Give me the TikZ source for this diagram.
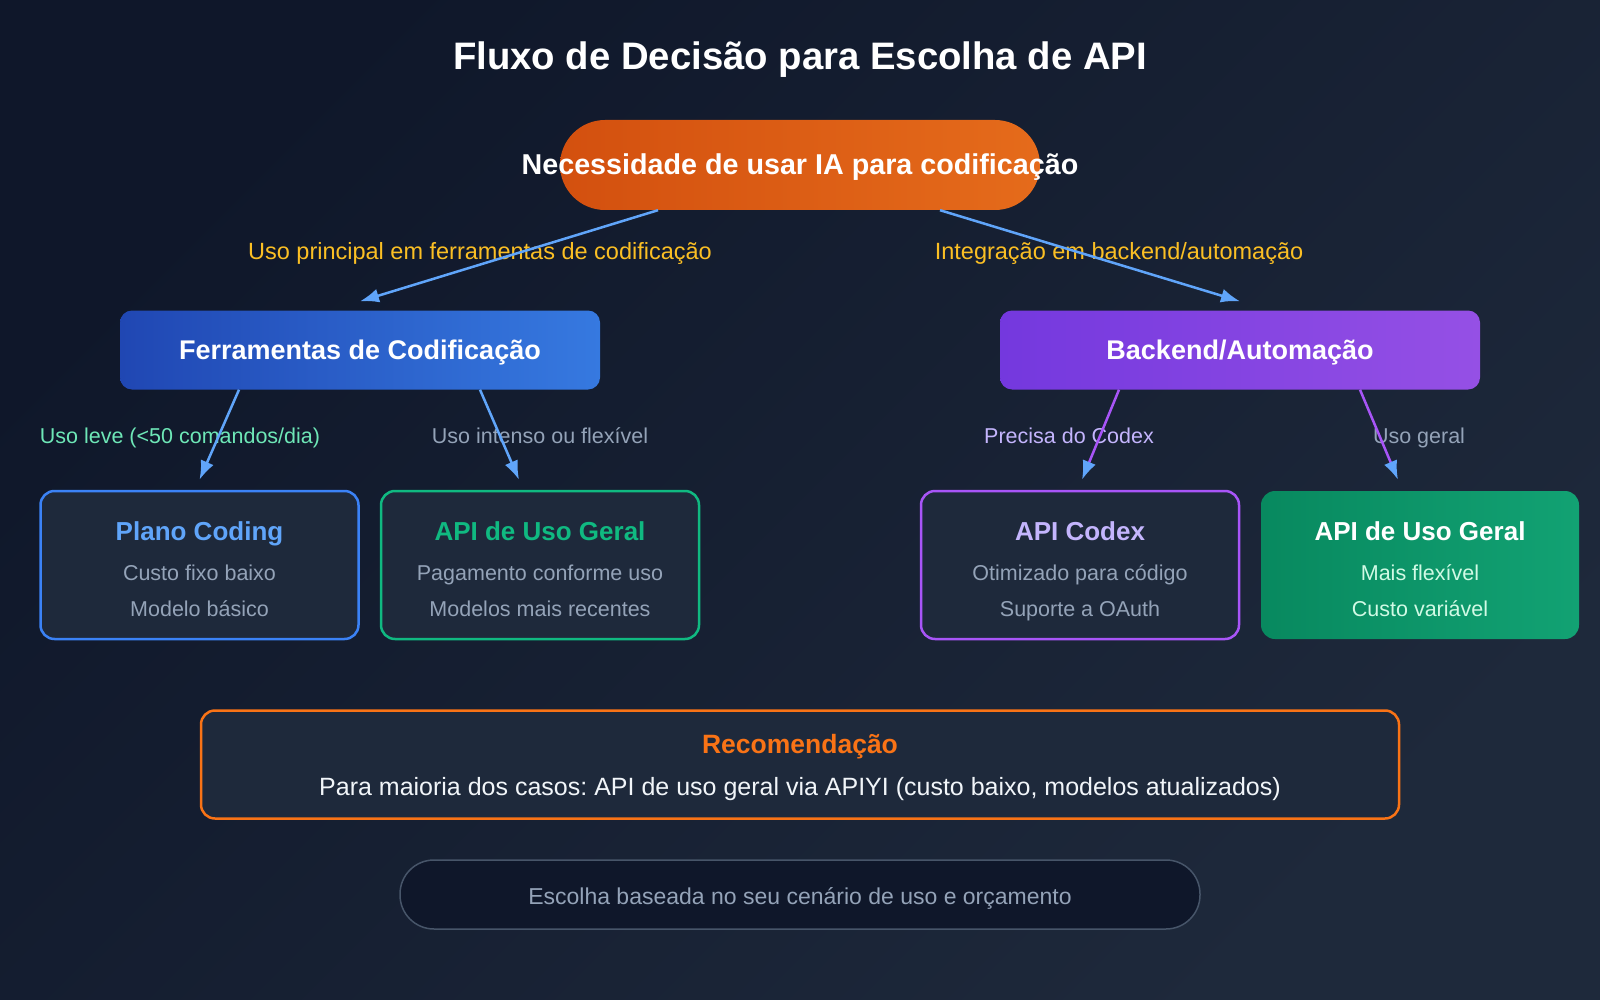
\documentclass[tikz,border=0pt]{standalone}
\usepackage{fontspec}
\setmainfont{Liberation Sans}
\usetikzlibrary{arrows.meta}
\frenchspacing

\definecolor{bgdark}{HTML}{0F172A}
\definecolor{bglight}{HTML}{1E293B}
\definecolor{cardbg}{HTML}{1E293B}
\definecolor{pillA}{HTML}{D3500F}
\definecolor{pillB}{HTML}{E56B1B}
\definecolor{ferrA}{HTML}{2047B3}
\definecolor{ferrB}{HTML}{3679E0}
\definecolor{backA}{HTML}{7438DE}
\definecolor{backB}{HTML}{9550E5}
\definecolor{greenA}{HTML}{08895F}
\definecolor{greenB}{HTML}{12A273}
\definecolor{arrblue}{HTML}{60A5FA}
\definecolor{arrpurple}{HTML}{A855F7}
\definecolor{cblue}{HTML}{3B82F6}
\definecolor{cgreen}{HTML}{10B981}
\definecolor{lpurple}{HTML}{C4B5FD}
\definecolor{lgreen}{HTML}{6EE7B7}
\definecolor{pgreen}{HTML}{D1FAE5}
\definecolor{slate}{HTML}{94A3B8}
\definecolor{amber}{HTML}{FBBF24}
\definecolor{recorange}{HTML}{F97316}
\definecolor{offwhite}{HTML}{F1F5F9}
\definecolor{pillborder}{HTML}{475569}

\newcommand{\fsz}[1]{\fontsize{#1}{#1}\selectfont}

\begin{document}
\begin{tikzpicture}[x=1pt,y=-1pt,
    card/.style={draw,line width=2.5pt,rounded corners=14pt,fill=cardbg,
      minimum width=318pt,minimum height=148pt,inner sep=0pt},
    branch/.style={rounded corners=12pt,minimum width=480pt,minimum height=79pt,
      inner sep=0pt,text=white,font=\fsz{27}\bfseries,text height=24pt,text depth=5pt},
    cardtitle/.style={font=\fsz{26}\bfseries,inner sep=0pt,anchor=base},
    cardline/.style={font=\fsz{21.5},text=slate,inner sep=0pt,anchor=base},
    arrlabel/.style={font=\fsz{21.5},inner sep=0pt,anchor=base},
    arrb/.style={draw=arrblue,line width=2.5pt,-{Latex[length=19pt,width=14pt]}},
    arrp/.style={draw=arrpurple,line width=2.5pt,-{Latex[length=19pt,width=14pt,color=arrblue]}}]

  % background
  \shade[top color=bgdark,bottom color=bglight,shading angle=45] (0,0) rectangle (1600,1000);
  \useasboundingbox (0,0) rectangle (1600,1000);

  % title
  \node[font=\fsz{38.3}\bfseries,text=white,anchor=base] (title) at (800,69.5) {Fluxo de Decisão para Escolha de API};

  % the starting question
  \node[left color=pillA,right color=pillB,rounded corners=45pt,minimum width=480pt,
        minimum height=90pt,inner sep=0pt] (need) at (800,165) {};
  \node[font=\fsz{28.7}\bfseries,text=white,anchor=base] (needtxt) at (800,175) {Necessidade de usar IA para codificação};

  % the two branches
  \node[branch,left color=ferrA,right color=ferrB] (ferr) at (360,350) {Ferramentas de Codificação};
  \node[branch,left color=backA,right color=backB] (back) at (1240,350) {Backend/Automação};

  % labels of the first split
  \node[arrlabel,font=\fsz{23.5},text=amber] (lferr) at (480,259.5) {Uso principal em ferramentas de codificação};
  \node[arrlabel,font=\fsz{23.5},text=amber] (lback) at (1119,259.5) {Integração em backend/automação};

  % arrows of the first split
  \draw[arrb] ([xshift=-142pt]need.south) -- ([yshift=9pt]ferr.north);
  \draw[arrb] ([xshift=140pt]need.south) -- ([yshift=9pt]back.north);

  % the four cards
  \node[card,draw=cblue] (plano) at (199.5,565) {};
  \node[card,draw=cgreen] (geralA) at (540,565) {};
  \node[card,draw=arrpurple] (codex) at (1080,565) {};
  \node[card,draw=none,left color=greenA,right color=greenB] (geralB) at (1420,565) {};

  % texts of the cards
  \node[cardtitle,text=arrblue] (planoT) at (199.5,540) {Plano Coding};
  \node[cardline] (planoA) at (199.5,580) {Custo fixo baixo};
  \node[cardline] (planoB) at (199.5,616) {Modelo básico};

  \node[cardtitle,text=cgreen] (geralAT) at (540,540) {API de Uso Geral};
  \node[cardline] (geralAA) at (540,580) {Pagamento conforme uso};
  \node[cardline] (geralAB) at (540,616) {Modelos mais recentes};

  \node[cardtitle,text=lpurple] (codexT) at (1080,540) {API Codex};
  \node[cardline] (codexA) at (1080,580) {Otimizado para código};
  \node[cardline] (codexB) at (1080,616) {Suporte a OAuth};

  \node[cardtitle,text=white] (geralBT) at (1420,540) {API de Uso Geral};
  \node[cardline,text=pgreen] (geralBA) at (1420,580) {Mais flexível};
  \node[cardline,text=pgreen] (geralBB) at (1420,616) {Custo variável};

  % labels of the second split
  \node[arrlabel,text=lgreen] (lplano) at (180,443.5) {Uso leve (<50 comandos/dia)};
  \node[arrlabel,text=slate] (lgeralA) at (540,443.5) {Uso intenso ou flexível};
  \node[arrlabel,text=lpurple] (lcodex) at (1069,443.5) {Precisa do Codex};
  \node[arrlabel,text=slate] (lgeralB) at (1419,443.5) {Uso geral};

  % arrows of the second split
  \draw[arrb] ([xshift=-121pt]ferr.south) -- ([yshift=10pt]plano.north);
  \draw[arrb] ([xshift=120pt]ferr.south) -- ([xshift=-21pt,yshift=10pt]geralA.north);
  \draw[arrp] ([xshift=-121pt]back.south) -- ([xshift=2pt,yshift=10pt]codex.north);
  \draw[arrp] ([xshift=120pt]back.south) -- ([xshift=-22pt,yshift=10pt]geralB.north);

  % recommendation
  \node[draw=recorange,line width=2.5pt,fill=cardbg,rounded corners=14pt,
        minimum width=1198pt,minimum height=108pt] (rec) at (800,764.5) {};
  \node[cardtitle,font=\fsz{26.5}\bfseries,text=recorange] (recT) at (800,753.5) {Recomendação};
  \node[font=\fsz{25},text=offwhite,inner sep=0pt,anchor=base] (recA) at (800,795)
    {Para maioria dos casos: API de uso geral via APIYI (custo baixo, modelos atualizados)};

  % closing note
  \node[draw=pillborder,line width=1.5pt,fill=bgdark,rounded corners=34pt,
        minimum width=800pt,minimum height=69pt] (note) at (800,894.5) {};
  \node[font=\fsz{23},text=slate,anchor=base] (notetxt) at (800,904) {Escolha baseada no seu cenário de uso e orçamento};

\end{tikzpicture}
\end{document}
